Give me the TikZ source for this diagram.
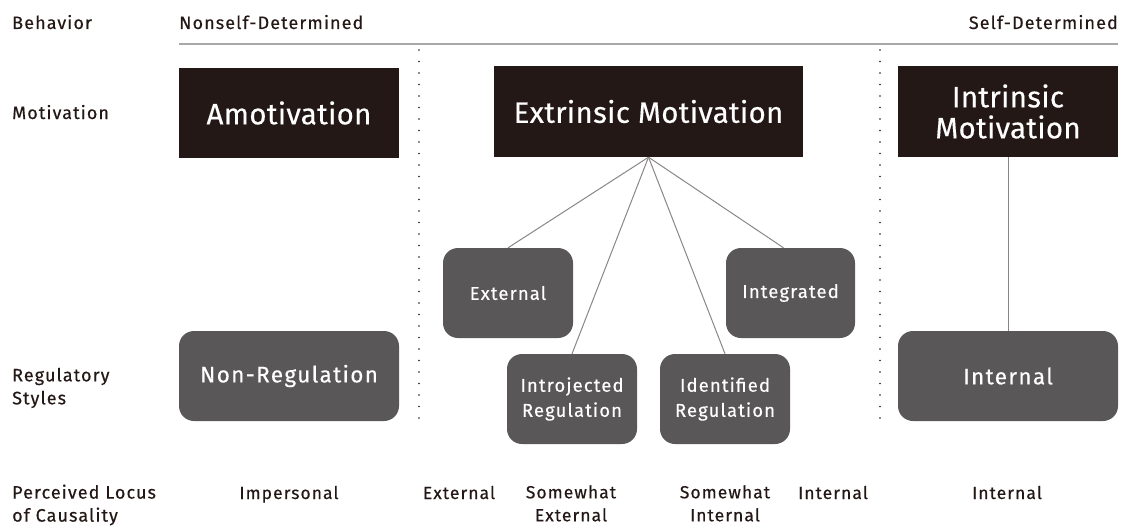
\documentclass[tikz,border=0pt]{standalone}
\usepackage{fontspec}
\setmainfont{Fira Sans}[LetterSpace=6,FakeBold=0.35]
\newfontfamily\boxfont{Fira Sans}[LetterSpace=1,FakeBold=0.35]
\definecolor{boxblack}{HTML}{231815}
\definecolor{boxgray}{HTML}{595757}
\definecolor{txt}{HTML}{231815}
\definecolor{rule}{HTML}{A8A8A8}
\definecolor{conn}{HTML}{8A8685}
\tikzset{
  blackbox/.style={fill=boxblack, text=white, inner sep=0pt, align=center, font=\boxfont\fontsize{29.5}{31}\selectfont},
  graybox/.style={fill=boxgray, text=white, inner sep=0pt, align=center, rounded corners=15pt},
  smallfont/.style={font=\fontsize{18.5}{25}\selectfont},
  bigfont/.style={font=\fontsize{22.5}{28}\selectfont},
  lbl/.style={text=txt, inner sep=0pt, font=\fontsize{18}{23}\selectfont, align=left},
  val/.style={text=txt, inner sep=0pt, font=\fontsize{17.5}{23}\selectfont, align=center},
  conline/.style={draw=conn, line width=1pt},
  dotline/.style={draw=txt, line width=1.8pt, dash pattern=on 0pt off 11.5pt, line cap=round}
}
\begin{document}
\begin{tikzpicture}[x=1pt,y=-1pt]
\useasboundingbox (0,0) rectangle (1123,527);
% header
\node[lbl, anchor=base west] (beh) at (12,29) {Behavior};
\node[lbl, anchor=base west] (nsd) at (179,29) {Nonself-Determined};
\node[lbl, anchor=base east] (sd) at (1118,29) {Self-Determined};
\coordinate (r1) at (179,44);
\coordinate (r2) at (1118,44);
\draw[draw=rule, line width=1.6pt] (r1) -- (r2);
% dotted separators
\coordinate (d1a) at (419,50); \coordinate (d1b) at (419,428);
\coordinate (d2a) at (880,50); \coordinate (d2b) at (880,428);
\draw[dotline] (d1a) -- (d1b);
\draw[dotline] (d2a) -- (d2b);
% row labels
\node[lbl, anchor=base west] (mot) at (12,119) {Motivation};
\node[lbl, anchor=west] (reg) at (12,388) {Regulatory\\Styles};
\node[lbl, anchor=west] (plc) at (12,505) {Perceived Locus\\of Causality};
% motivation boxes
\node[blackbox, minimum width=220pt, minimum height=90pt] (amo) at (289,113) {Amotivation};
\node[blackbox, minimum width=309pt, minimum height=91pt] (ext) at (648.5,111.5) {Extrinsic Motivation};
\node[blackbox, minimum width=220pt, minimum height=91pt] (intr) at (1008,111.5) {Intrinsic\\Motivation};
% regulatory boxes
\node[graybox, bigfont, minimum width=220pt, minimum height=90pt] (nonreg) at (289,376) {Non-Regulation};
\node[graybox, smallfont, minimum width=130pt, minimum height=90pt] (exreg) at (508,293) {External};
\node[graybox, smallfont, minimum width=129pt, minimum height=90pt] (integ) at (790.5,293) {Integrated};
\node[graybox, smallfont, minimum width=130pt, minimum height=90pt] (introj) at (572,399) {Introjected\\Regulation};
\node[graybox, smallfont, minimum width=130pt, minimum height=90pt] (ident) at (725,399) {Identified\\Regulation};
\node[graybox, bigfont, minimum width=220pt, minimum height=90pt] (inreg) at (1008,376) {Internal};
% connectors
\draw[conline] (ext.south) -- (exreg.north);
\draw[conline] (ext.south) -- (introj.north);
\draw[conline] (ext.south) -- (ident.north);
\draw[conline] (ext.south) -- ([xshift=-7pt]integ.north);
\draw[conline] (intr.south) -- (inreg.north);
% locus values
\node[val, anchor=base] (v1) at (289,499) {Impersonal};
\node[val, anchor=base] (v2) at (459,499) {External};
\node[val, anchor=north] (v3) at (571,485) {Somewhat\\External};
\node[val, anchor=north] (v4) at (725,485) {Somewhat\\Internal};
\node[val, anchor=base] (v5) at (833,499) {Internal};
\node[val, anchor=base] (v6) at (1007,499) {Internal};
\end{tikzpicture}
\end{document}
